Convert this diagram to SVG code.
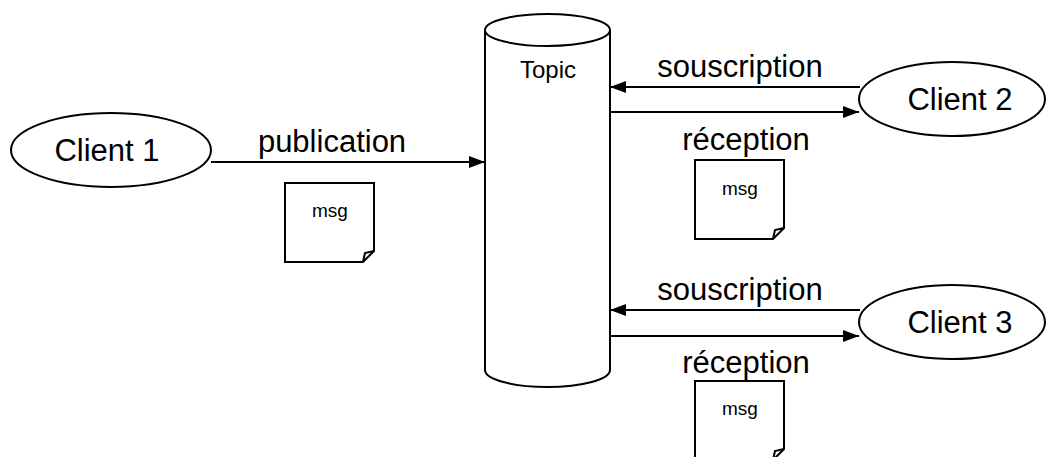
<svg xmlns="http://www.w3.org/2000/svg" width="1048" height="457" viewBox="0 0 1048 457">
  <style>
    .shape { fill: #ffffff; stroke: #000000; stroke-width: 2; }
    .line { fill: none; stroke: #000000; stroke-width: 2; }
    .label { font-family: "Liberation Sans", Arial, sans-serif; font-size: 31px; fill: #000000; text-anchor: middle; }
    .topic { font-family: "Liberation Sans", Arial, sans-serif; font-size: 24px; fill: #000000; text-anchor: middle; }
    .msg { font-family: "Liberation Sans", Arial, sans-serif; font-size: 19px; fill: #000000; text-anchor: middle; }
  </style>
  <defs>
    <marker id="arrow" viewBox="0 0 16 12" refX="16" refY="6" markerWidth="16" markerHeight="12" markerUnits="userSpaceOnUse" orient="auto">
      <path d="M0,0 L16,6 L0,12 Z" fill="#000000"/>
    </marker>
    <!-- message sheet with a folded bottom-right corner -->
    <g id="sheet">
      <path class="shape" d="M0,0 H89 V68 L78,79 H0 Z"/>
      <path class="line" d="M89,68 L80,70 L78,79"/>
    </g>
  </defs>

  <!-- connectors -->
  <g id="connectors">
    <line class="line" x1="211" y1="162" x2="485" y2="162" marker-end="url(#arrow)"/>
    <line class="line" x1="860" y1="87" x2="610" y2="87" marker-end="url(#arrow)"/>
    <line class="line" x1="610" y1="112" x2="859" y2="112" marker-end="url(#arrow)"/>
    <line class="line" x1="860" y1="310" x2="610" y2="310" marker-end="url(#arrow)"/>
    <line class="line" x1="610" y1="336" x2="859" y2="336" marker-end="url(#arrow)"/>
    <text class="label" x="332" y="152">publication</text>
    <text class="label" x="740" y="77">souscription</text>
    <text class="label" x="746" y="150">réception</text>
    <text class="label" x="740" y="300">souscription</text>
    <text class="label" x="746" y="373">réception</text>
  </g>

  <!-- topic (cylinder) -->
  <g id="topic">
    <path class="shape" d="M485,30 V370 A62.5,17 0 0 0 610,370 V30"/>
    <ellipse class="shape" cx="547.5" cy="30" rx="62.5" ry="16"/>
    <text class="topic" x="548" y="78">Topic</text>
  </g>

  <g id="client1">
    <ellipse class="shape" cx="111" cy="150" rx="100" ry="37"/>
    <text class="label" x="107" y="161">Client 1</text>
  </g>

  <g id="client2">
    <ellipse class="shape" cx="952" cy="99" rx="93" ry="37"/>
    <text class="label" x="960" y="110">Client 2</text>
  </g>

  <g id="client3">
    <ellipse class="shape" cx="952" cy="322" rx="93" ry="37"/>
    <text class="label" x="960" y="333">Client 3</text>
  </g>

  <g id="msg1">
    <use href="#sheet" x="285" y="183"/>
    <text class="msg" x="330" y="217">msg</text>
  </g>

  <g id="msg2">
    <use href="#sheet" x="695" y="160"/>
    <text class="msg" x="740" y="195">msg</text>
  </g>

  <g id="msg3">
    <use href="#sheet" x="695" y="381"/>
    <text class="msg" x="740" y="415">msg</text>
  </g>
</svg>
